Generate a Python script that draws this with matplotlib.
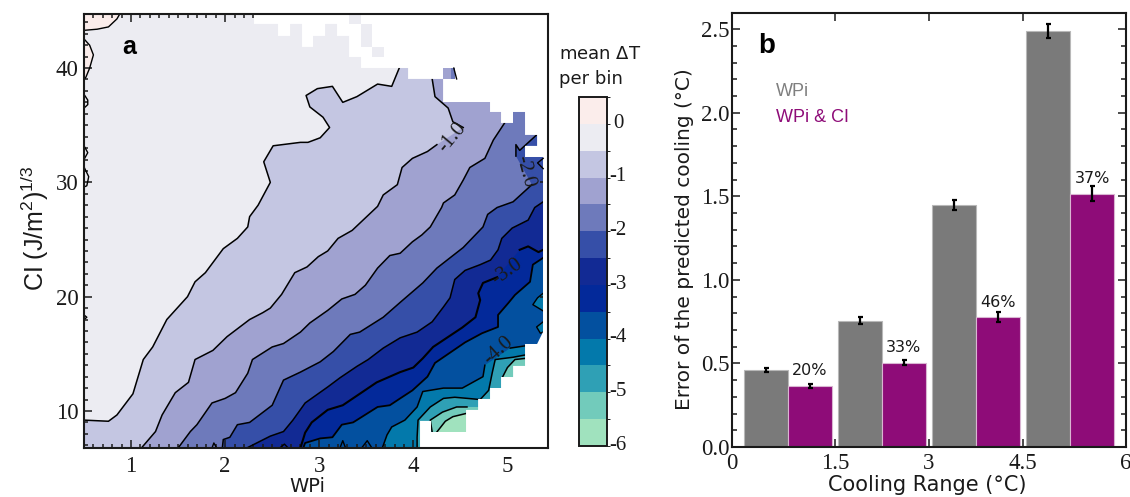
import numpy as np
import matplotlib
matplotlib.use("Agg")
import matplotlib.pyplot as plt
from matplotlib.colors import ListedColormap, BoundaryNorm
from matplotlib.colorbar import ColorbarBase

W, H = 1130, 497

# =============================
# Panel a: contour lines (nan = gap under a label)
# =============================
nan = np.nan
wpi_05 = [0.50, 0.76, 0.85, 1.02, 1.13, 1.23, 1.38, 1.60, 1.68, 1.79, 1.98, 2.13, 2.24, 2.26, 2.35, 2.48, 2.41, 2.51, 2.80, 2.88, 3.01, 3.11, 3.04, 2.90, 2.86, 2.98, 3.14, 3.25, 3.40, 3.62, 3.77, 3.85]
ci_05 = [9.2, 9.1, 9.65, 11.5, 14.5, 15.6, 18.0, 20.0, 21.3, 22.1, 24.2, 25.1, 26.1, 27.0, 28.0, 30.0, 31.8, 33.2, 33.5, 33.5, 33.9, 34.8, 35.7, 36.6, 37.6, 38.2, 38.4, 37.0, 37.5, 38.6, 38.4, 40.0]

wpi_10 = [1.11, 1.26, 1.33, 1.47, 1.61, 1.68, 1.87, 2.02, 2.26, 2.40, 2.48, 2.60, 2.74, 2.87, 2.99, 3.09, 3.20, 3.35, 3.62, 3.68, 3.83, 3.88, 3.99, 4.15, 4.25, nan, 4.53, 4.42, 4.37, 4.23, 4.20]
ci_10 = [6.76, 8.2, 9.65, 11.6, 12.5, 14.5, 15.3, 16.5, 18.0, 18.6, 19.0, 20.2, 22.1, 22.6, 23.5, 24.0, 25.1, 25.8, 27.9, 28.9, 29.8, 31.3, 32.1, 32.7, 33.3, nan, 34.8, 35.3, 36.5, 37.5, 39.05]

wpi_15 = [1.50, 1.63, 1.70, 1.86, 2.00, 2.11, 2.24, 2.29, 2.50, 2.62, 2.80, 2.90, 3.09, 3.24, 3.38, 3.49, 3.62, 3.75, 3.86, 3.99, 4.09, 4.18, 4.30, 4.32, 4.44, 4.53, 4.60, 4.76, 4.85, 4.97]
ci_15 = [6.76, 8.2, 8.8, 10.7, 11.1, 11.6, 13.3, 14.5, 15.6, 15.9, 16.9, 17.7, 18.8, 19.8, 20.2, 21.0, 22.5, 23.6, 23.8, 24.8, 25.4, 26.1, 27.8, 28.2, 28.9, 30.2, 31.3, 32.1, 33.7, 35.2]

wpi_20 = [1.97, 1.98, 2.05, 2.13, 2.26, 2.50, 2.62, 2.80, 3.01, 3.15, 3.33, 3.43, 3.68, 3.86, 4.10, 4.25, 4.53, 4.74, 4.79, 4.89, 5.06, 5.26, nan, 5.09, 5.09, 5.13, 5.31]
ci_20 = [6.76, 7.5, 7.7, 8.8, 9.0, 10.5, 12.7, 13.4, 14.3, 15.2, 16.7, 16.9, 18.2, 19.5, 21.2, 22.5, 24.3, 26.1, 27.2, 27.8, 28.3, 29.8, nan, 32.3, 33.3, 32.8, 34.15]

wpi_25 = [2.23, 2.48, 2.62, 2.72, 2.85, 3.09, 3.22, 3.40, 3.52, 3.68, 3.86, 4.04, 4.20, 4.32, 4.39, 4.44, 4.55, 4.71, 4.82, 4.90, 4.94, 5.05, 5.22, 5.29, 5.38]
ci_25 = [6.76, 7.8, 8.2, 9.2, 10.7, 12.1, 12.9, 13.9, 14.5, 15.5, 16.4, 16.9, 17.8, 19.1, 19.9, 21.5, 22.3, 22.8, 23.2, 24.1, 25.1, 26.0, 26.7, 27.8, 28.3]

wpi_30 = [2.80, 2.85, 2.92, 3.09, 3.25, 3.61, 3.86, 4.00, 4.10, 4.21, 4.52, 4.66, 4.71, 4.69, 4.74, 4.89, nan, 5.13, 5.22, 5.33, 5.38]
ci_30 = [6.76, 8.1, 9.0, 10.1, 10.5, 12.5, 13.4, 13.8, 14.6, 15.6, 17.3, 18.2, 19.7, 20.3, 21.2, 21.7, nan, 24.1, 24.4, 23.9, 24.1]

wpi_35 = [2.83, 2.85, 3.01, 3.14, 3.24, 3.36, 3.62, 3.75, 3.86, 3.99, 4.15, 4.23, 4.39, 4.55, 4.73, 4.90, 4.90, 5.01, 5.08, 5.24, 5.27, 5.38]
ci_35 = [6.76, 7.2, 7.6, 7.7, 8.8, 9.0, 10.35, 10.5, 11.1, 11.8, 13.0, 14.2, 15.1, 16.0, 16.8, 17.35, 18.4, 19.45, 20.15, 21.3, 22.8, 23.4]

wpi_40 = [3.67, 3.72, 3.77, 3.91, 4.04, 4.10, 4.32, 4.52, 4.74, 4.76, nan, 5.03, 5.19]
ci_40 = [6.76, 7.9, 8.6, 9.2, 10.35, 11.7, 12.0, 12.0, 13.0, 14.0, nan, 15.5, 15.7]

wpi_45 = [4.04, 4.04, 4.05, 4.18, 4.32, 4.44, 4.71, 4.80, 4.84, 4.87, 5.06, 5.19]
ci_45 = [6.76, 7.7, 9.2, 10.35, 11.1, 11.2, 11.0, 11.8, 13.4, 14.5, 14.7, 14.9]

wpi_50a = [4.20, 4.18, 4.31, 4.46, 4.57]
ci_50a = [8.16, 9.2, 9.9, 10.35, 10.35]
wpi_50b = [4.95, 5.00, 5.08, 5.19]
ci_50b = [13.0, 13.8, 14.5, 14.6]

wpi_55 = [4.25, 4.34, 4.42, 4.57]
ci_55 = [8.16, 9.1, 9.5, 9.8]

# positive patches in the upper left corner
wpi_pos1 = [0.88, 0.85, 0.76, 0.64, 0.50]
ci_pos1 = [44.73, 44.3, 43.6, 43.4, 43.3]
wpi_pos2 = [0.50, 0.56, 0.60, 0.56, 0.52, 0.50]
ci_pos2 = [42.55, 42.0, 41.15, 40.0, 39.2, 39.0]

# small teal pockets on the right edge
wpi_pocket1 = [5.38, 5.32, 5.27, 5.38]
ci_pocket1 = [20.3, 19.9, 19.3, 18.75]
wpi_pocket2 = [5.38, 5.31, 5.35, 5.38]
ci_pocket2 = [17.8, 17.35, 16.8, 16.9]

# little contour loops on the plot edges
bits_wpi = [[0.50, 0.54, 0.54, 0.50], [0.50, 0.54, 0.50], [0.50, 0.55, 0.53, 0.50], [0.50, 0.53, 0.50],
            [1.86, 1.88, 1.91], [2.58, 2.63, 2.67], [3.22, 3.25, 3.28], [3.45, 3.51, 3.56],
            [5.38, 5.32, 5.38], [4.43, 4.46]]
bits_ci = [[37.7, 37.2, 36.8, 36.5], [33.2, 32.6, 32.0], [31.35, 30.5, 29.7, 29.6], [18.4, 18.2, 18.0],
           [6.76, 7.2, 6.76], [6.76, 7.1, 6.76], [6.76, 7.4, 6.76], [6.76, 7.4, 6.76],
           [32.1, 31.7, 31.2], [40.0, 39.05]]

# bins without data
nodata_wpi = [2.307, 2.307, 2.562, 2.562, 2.69, 2.69, 2.817, 2.817, 2.934, 2.934, 3.062, 3.062, 3.189, 3.189, 3.317, 3.317, 3.444, 3.444, 3.944, 3.944, 4.316, 4.316, 4.815, 4.815, 4.932, 4.932, 5.06, 5.06, 5.187, 5.187, 5.315, 5.315, 5.187, 5.187, 5.378, 5.378, 5.315, 5.187, 5.187, 5.06, 5.06, 4.932, 4.932, 4.815, 4.815, 4.688, 4.688, 4.56, 4.56, 4.188, 4.188, 4.071, 4.071, 5.44, 5.44]
nodata_ci = [44.8, 43.86, 43.86, 42.81, 42.81, 43.86, 43.86, 41.85, 41.85, 42.81, 42.81, 43.86, 43.86, 42.81, 42.81, 40.97, 40.97, 40.01, 40.01, 39.05, 39.05, 37.03, 37.03, 36.16, 36.16, 35.2, 35.2, 36.16, 36.16, 34.15, 34.15, 33.19, 33.19, 32.22, 32.22, 16.91, 15.86, 15.86, 13.94, 13.94, 12.97, 12.97, 12.01, 12.01, 11.05, 11.05, 10.09, 10.09, 8.16, 8.16, 9.13, 9.13, 6.7, 6.7, 44.8]

# separate bins that still hold data inside the empty area
cell_x0 = [3.317, 3.444, 3.561, 4.316, 4.40, 5.06]
cell_x1 = [3.444, 3.561, 3.689, 4.443, 4.443, 5.187]
cell_y0 = [43.86, 41.85, 40.97, 39.05, 39.05, 35.2]
cell_y1 = [44.73, 43.86, 41.85, 40.01, 40.01, 36.16]
cell_band = [11, 11, 11, 9, 8, 8]

levels = [-6, -5.5, -5, -4.5, -4, -3.5, -3, -2.5, -2, -1.5, -1, -0.5, 0, 0.5]
colorbar_ticks = [0, -1, -2, -3, -4, -5, -6]
# from lowest (-6) to highest (0.5)
band_colors = ["#A0E2BE", "#72CBBB", "#2FA0B5", "#0379AB", "#03509F", "#03299A", "#122A94",
               "#364FA8", "#6E7ABB", "#A0A2D0", "#C4C6E2", "#ECECF2", "#FBEDEB"]

# =============================
# Panel b
# =============================
bin_centers = [0.75, 2.25, 3.75, 5.25]
wpi_error = [0.46, 0.755, 1.45, 2.49]
wpi_ci_error = [0.365, 0.505, 0.775, 1.515]
wpi_spread = [0.012, 0.02, 0.03, 0.04]
wpi_ci_spread = [0.012, 0.015, 0.03, 0.045]
gain_labels = ["20%", "33%", "46%", "37%"]

SERIF = "Liberation Serif"
SANS = "Liberation Sans"
DARK = "#1a1a1a"

plt.rcParams["mathtext.default"] = "regular"
plt.rcParams["lines.solid_joinstyle"] = "round"
fig = plt.figure(figsize=(W / 100, H / 100), dpi=100)


def px_axes(left, top, right, bottom):
    return fig.add_axes([left / W, 1 - bottom / H, (right - left) / W, (bottom - top) / H])


def px_text(x, y, s, **kw):
    kw.setdefault("ha", "center")
    kw.setdefault("va", "center")
    fig.text(x / W, 1 - y / H, s, **kw)


def style_axes(ax, major_len, minor_len):
    for s in ax.spines.values():
        s.set_linewidth(1.5)
        s.set_color(DARK)
        s.set_zorder(10)
    ax.tick_params(which="major", direction="in", top=True, right=True, length=major_len, width=1.1,
                   color=DARK, labelsize=16.5, labelcolor=DARK, zorder=10)
    ax.tick_params(which="minor", direction="in", top=True, right=True, length=minor_len, width=1.1, color=DARK)
    for lab in ax.get_xticklabels() + ax.get_yticklabels():
        lab.set_fontfamily(SERIF)


# =============================
# Panel a
# =============================
ax = px_axes(84, 14, 548, 448)
XL, XR, YB, YT = 0.5, 5.431, 6.76, 44.73
ax.set_xlim(XL, XR)
ax.set_ylim(YB, YT)
ax.set_facecolor(band_colors[11])


def fill_band(x, y, color):
    x = np.array(x)
    y = np.array(y)
    keep = ~np.isnan(x)
    x, y = x[keep], y[keep]
    ax.fill(np.r_[x, XR + 0.1, XR + 0.1, x[0]], np.r_[y, y[-1], YB - 1, YB - 1], color=color, lw=0, zorder=1)


contours = [(wpi_05, ci_05, 10, 1.1), (wpi_10, ci_10, 9, 1.1), (wpi_15, ci_15, 8, 1.1), (wpi_20, ci_20, 7, 1.1),
            (wpi_25, ci_25, 6, 1.1), (wpi_30, ci_30, 5, 1.5), (wpi_35, ci_35, 4, 1.3), (wpi_40, ci_40, 3, 1.1),
            (wpi_45, ci_45, 2, 1.1), (wpi_50a, ci_50a, 1, 1.1), (wpi_50b, ci_50b, 1, 1.1), (wpi_55, ci_55, 0, 1.1)]
for cx, cy, band, lw in contours:
    fill_band(cx, cy, band_colors[band])
    ax.plot(cx, cy, color="k", lw=lw, zorder=2)

ax.fill(np.r_[XL, wpi_pos1], np.r_[YT, ci_pos1], color=band_colors[12], lw=0, zorder=1.5)
ax.plot(wpi_pos1, ci_pos1, color="k", lw=1.0, zorder=2)
ax.fill(wpi_pos2, ci_pos2, color=band_colors[12], lw=0, zorder=1.5)
ax.plot(wpi_pos2, ci_pos2, color="k", lw=1.0, zorder=2)
for px_, py_ in [(wpi_pocket1, ci_pocket1), (wpi_pocket2, ci_pocket2)]:
    ax.fill(px_, py_, color=band_colors[3], lw=0, zorder=1.5)
    ax.plot(px_, py_, color="k", lw=1.0, zorder=2)
for bx_, by_ in zip(bits_wpi, bits_ci):
    ax.plot(bx_, by_, color="k", lw=1.0, zorder=4)

ax.fill(nodata_wpi, nodata_ci, color="white", lw=0, zorder=3)
for x0, x1, y0, y1, b in zip(cell_x0, cell_x1, cell_y0, cell_y1, cell_band):
    ax.fill([x0, x1, x1, x0], [y0, y0, y1, y1], color=band_colors[b], lw=0, zorder=3.5)

ax.text(4.42, 33.9, "-1.0", fontfamily=SERIF, fontsize=15, rotation=50, ha="center", va="center", color=DARK, zorder=5)
ax.text(5.18, 30.9, "-2.0", fontfamily=SERIF, fontsize=15, rotation=-75, ha="center", va="center", color=DARK, zorder=5)
ax.text(5.00, 22.2, "-3.0", fontfamily=SERIF, fontsize=15, rotation=35, ha="center", va="center", color=DARK, zorder=5)
ax.text(4.90, 15.3, "-4.0", fontfamily=SERIF, fontsize=15, rotation=42, ha="center", va="center", color=DARK, zorder=5)

ax.set_xticks([1, 2, 3, 4, 5])
ax.set_yticks([10, 20, 30, 40])
ax.set_xticks(np.arange(0.6, 5.45, 0.1), minor=True)
ax.set_yticks(np.arange(7, 45, 1), minor=True)
style_axes(ax, 6, 3.2)
ax.tick_params(axis="x", which="major", pad=6)
ax.tick_params(axis="y", which="major", pad=4)

px_text(129, 47, "a", fontfamily=SANS, fontweight="bold", fontsize=18, color="k")
px_text(307, 486, "WPi", fontfamily="DejaVu Sans", fontsize=14, color=DARK)
px_text(35, 228, "CI (J/m$^{2}$)$^{1/3}$", fontfamily=SANS, fontsize=18, rotation=90, color=DARK)

# colour bar
cax = px_axes(579, 97, 607, 446)
cmap = ListedColormap(band_colors)
norm = BoundaryNorm(levels, cmap.N)
cb = ColorbarBase(cax, cmap=cmap, norm=norm, orientation="vertical", ticks=[], spacing="proportional")
cb.outline.set_linewidth(1.4)
cb.outline.set_edgecolor(DARK)
for tick in colorbar_ticks:
    cax.annotate(str(tick), (1, tick), xycoords=("axes fraction", "data"), xytext=(8, 0.5), textcoords="offset points",
                 ha="center", va="center", fontfamily=SERIF, fontsize=15, color=DARK, annotation_clip=False)
px_text(600, 54, "mean $\\Delta$T", fontfamily="DejaVu Sans", fontsize=13, color=DARK)
px_text(591, 79, "per bin", fontfamily="DejaVu Sans", fontsize=13, color=DARK)

# =============================
# Panel b
# =============================
bx = px_axes(732, 13, 1126, 447)
bx.set_xlim(-0.14, 6.14)
bx.set_ylim(0, 2.597)
bar_w = 0.70
centers = np.array(bin_centers)
bx.bar(centers - bar_w / 2, wpi_error, bar_w, color="#7A7A7A", edgecolor="#B8B8B8", linewidth=0.8, zorder=2)
bx.bar(centers + bar_w / 2, wpi_ci_error, bar_w, color="#8E0C78", edgecolor="#D9B5D2", linewidth=0.8, zorder=2)
bx.errorbar(centers - bar_w / 2, wpi_error, yerr=wpi_spread, fmt="none", ecolor="k", elinewidth=1.6, capsize=1.8, capthick=1.6, zorder=3)
bx.errorbar(centers + bar_w / 2, wpi_ci_error, yerr=wpi_ci_spread, fmt="none", ecolor="k", elinewidth=1.6, capsize=1.8, capthick=1.6, zorder=3)
for xc, yv, lab in zip(centers + bar_w / 2, wpi_ci_error, gain_labels):
    bx.text(xc, yv + 0.09, lab, fontfamily="DejaVu Sans", fontsize=11.5, ha="center", va="center", color=DARK)

bx.set_xticks([-0.14, 1.5, 3, 4.5, 6.14])
bx.set_xticklabels(["0", "1.5", "3", "4.5", "6"])
bx.set_yticks([0, 0.5, 1.0, 1.5, 2.0, 2.5])
bx.set_yticks(np.arange(0.1, 2.6, 0.1), minor=True)
style_axes(bx, 6, 3.6)
bx.tick_params(axis="x", which="major", pad=4.5)
bx.tick_params(axis="y", which="major", pad=2)

px_text(767, 46, "b", fontfamily=SANS, fontweight="bold", fontsize=20, color="k")
px_text(776, 91, "WPi", ha="left", fontfamily=SANS, fontsize=13, color="#7F7F7F")
px_text(776, 117, "WPi & CI", ha="left", fontfamily=SANS, fontsize=13, color="#8E0C78")
px_text(927, 485, "Cooling Range (°C)", fontfamily="DejaVu Sans", fontsize=15, color=DARK)
px_text(684, 239, "Error of the predicted cooling (°C)", fontfamily="DejaVu Sans", fontsize=14.5, rotation=90, color=DARK)

fig.savefig("out.png", dpi=100)
